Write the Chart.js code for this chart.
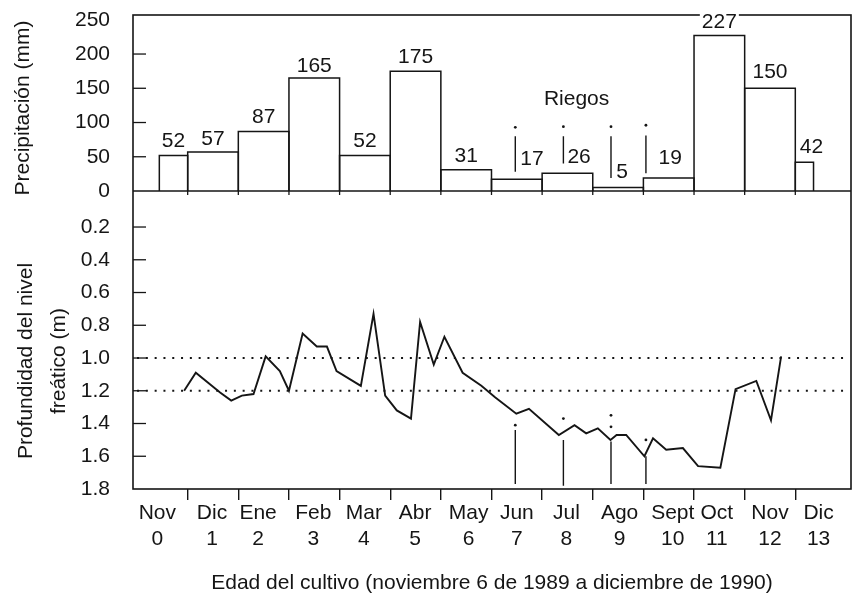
<!DOCTYPE html>
<html>
<head>
<meta charset="utf-8">
<script src="https://cdn.jsdelivr.net/npm/chart.js@4/dist/chart.umd.min.js"></script>
<style>
  html, body { margin: 0; padding: 0; background: #ffffff; }
  canvas { display: block; }
</style>
</head>
<body>
<canvas id="chart" width="857" height="596"></canvas>
<script>
// ---------------- DATA ----------------
// x axis unit: months since the start of November 1989 (0 = start of Nov 1989)
const monthNames   = ['Nov','Dic','Ene','Feb','Mar','Abr','May','Jun','Jul','Ago','Sept','Oct','Nov','Dic'];
const monthNumbers = ['0','1','2','3','4','5','6','7','8','9','10','11','12','13'];
const monthLabelPos = [0.40, 1.48, 2.39, 3.48, 4.48, 5.49, 6.55, 7.50, 8.48, 9.53, 10.58, 11.45, 12.50, 13.46];
const monthBoundaries = [1,2,3,4,5,6,7,8,9,10,11,12,13];

// monthly precipitation (mm), with the period each bar covers
const rainStart = [0.44, 1, 2, 3, 4, 5, 6, 7, 8, 9, 10, 11, 12, 13];
const rainEnd   = [1, 2, 3, 4, 5, 6, 7, 8, 9, 10, 11, 12, 13, 13.36];
const rainMm    = [52, 57, 87, 165, 52, 175, 31, 17, 26, 5, 19, 227, 150, 42];
const rainTicks = [0, 50, 100, 150, 200, 250];

// water-table depth (m)
const wtMonth = [0.93, 1.16, 1.64, 1.86, 2.07, 2.30, 2.54, 2.82, 3.00, 3.27, 3.55, 3.75, 3.94, 4.42,
                 4.67, 4.90, 5.13, 5.41, 5.59, 5.86, 6.07, 6.43, 6.80, 7.07, 7.49, 7.74, 8.33, 8.64,
                 8.87, 9.10, 9.35, 9.47, 9.66, 10.02, 10.19, 10.45, 10.78, 11.08, 11.52, 11.82, 12.23,
                 12.52, 12.72];
const wtDepth = [1.20, 1.09, 1.21, 1.26, 1.23, 1.22, 0.99, 1.08, 1.20, 0.85, 0.93, 0.93, 1.08, 1.17,
                 0.73, 1.23, 1.32, 1.37, 0.78, 1.04, 0.87, 1.09, 1.17, 1.24, 1.34, 1.31, 1.47, 1.41,
                 1.46, 1.43, 1.50, 1.47, 1.47, 1.60, 1.49, 1.56, 1.55, 1.66, 1.67, 1.19, 1.14,
                 1.38, 0.99];
const depthTicks = [0.2, 0.4, 0.6, 0.8, 1.0, 1.2, 1.4, 1.6, 1.8];
const refDepths = [1.0, 1.2];

// irrigation events (Riegos)
const riegoLabel = 'Riegos';
const riegoMonth = [7.47, 8.42, 9.36, 10.05];
const riegoRainTop    = [80, 80, 80, 81];
const riegoRainBottom = [28, 40, 19, 26];
const riegoRainDot    = [93, 94, 94, 96];
const riegoDepthTop    = [1.44, 1.50, 1.51, 1.60];
const riegoDepthBottom = [1.77, 1.78, 1.77, 1.77];
const riegoDepthDots   = [[1.41], [1.37], [1.35, 1.42], [1.50]];

// label nudges (layout only)
const rainLabelDx = [0, 0, 0, 0, 0, 0, 0, 0.30, 0.23, 0.08, 0.03, 0, 0, 0.14];
const rainLabelDy = [14, 13, 14, 12, 14, 14, 14, 20, 16, 15, 20, 13, 16, 15];
const riegoLabelAt = [8.68, 134];

const xTitle = 'Edad del cultivo (noviembre 6 de 1989 a diciembre de 1990)';
const rainTitle = 'Precipitación (mm)';
const depthTitle = ['Profundidad del nivel', 'freático (m)'];

// ---------------- STYLE ----------------
const INK = '#151515';
const FONT = "'Liberation Sans', Arial, Helvetica, sans-serif";
Chart.defaults.font.family = FONT;
Chart.defaults.font.size = 21;
Chart.defaults.color = INK;

const datasets = [];
// precipitation bars (outlined rectangles of variable width)
rainMm.forEach((v, i) => {
  datasets.push({
    yAxisID: 'yRain', showLine: true, borderColor: INK, borderWidth: 1.5,
    pointRadius: 0, fill: false, tension: 0,
    data: [{x: rainStart[i], y: 0}, {x: rainStart[i], y: v}, {x: rainEnd[i], y: v}, {x: rainEnd[i], y: 0}]
  });
});
// riego markers in precipitation panel
riegoMonth.forEach((m, i) => {
  datasets.push({
    yAxisID: 'yRain', showLine: true, borderColor: INK, borderWidth: 1.4, pointRadius: 0,
    data: [{x: m, y: riegoRainTop[i]}, {x: m, y: riegoRainBottom[i]}]
  });
});
datasets.push({
  yAxisID: 'yRain', showLine: false, pointRadius: 1.4, pointBackgroundColor: INK, pointBorderWidth: 0,
  data: riegoMonth.map((m, i) => ({x: m, y: riegoRainDot[i]}))
});
// reference dotted lines
refDepths.forEach(d => {
  datasets.push({
    yAxisID: 'yDepth', showLine: true, borderColor: INK, borderWidth: 2, borderDash: [2, 6.8],
    pointRadius: 0, data: [{x: 0, y: d}, {x: 14.05, y: d}]
  });
});
// water table curve
datasets.push({
  yAxisID: 'yDepth', showLine: true, borderColor: INK, borderWidth: 1.9, pointRadius: 0, tension: 0,
  data: wtMonth.map((m, i) => ({x: m, y: wtDepth[i]}))
});
// riego markers in depth panel
riegoMonth.forEach((m, i) => {
  datasets.push({
    yAxisID: 'yDepth', showLine: true, borderColor: INK, borderWidth: 1.4, pointRadius: 0,
    data: [{x: m, y: riegoDepthTop[i]}, {x: m, y: riegoDepthBottom[i]}]
  });
});
const dotData = [];
riegoMonth.forEach((m, i) => riegoDepthDots[i].forEach(d => dotData.push({x: m, y: d})));
datasets.push({
  yAxisID: 'yDepth', showLine: false, pointRadius: 1.4, pointBackgroundColor: INK, pointBorderWidth: 0,
  data: dotData
});

function seg(ctx, x1, y1, x2, y2) {
  ctx.beginPath(); ctx.moveTo(x1, y1); ctx.lineTo(x2, y2); ctx.stroke();
}

const decor = {
  id: 'decor',
  beforeDatasetsDraw(chart) {
    const {ctx, chartArea: a, scales: {x, yRain, yDepth}} = chart;
    ctx.save();
    ctx.strokeStyle = INK;
    ctx.lineWidth = 1.6;
    ctx.strokeRect(a.left, a.top, a.right - a.left, a.bottom - a.top);
    const yDiv = yRain.getPixelForValue(0);
    seg(ctx, a.left, yDiv, a.right, yDiv);
    ctx.lineWidth = 1.3;
    rainTicks.slice(1, -1).forEach(v => {
      const p = yRain.getPixelForValue(v); seg(ctx, a.left, p, a.left + 13, p);
    });
    depthTicks.slice(0, -1).forEach(v => {
      const p = yDepth.getPixelForValue(v); seg(ctx, a.left, p, a.left + 13, p);
    });
    monthBoundaries.forEach(m => {
      const p = x.getPixelForValue(m); seg(ctx, p, yDiv, p, yDiv + 4);
    });
    ctx.restore();
  },
  afterDatasetsDraw(chart) {
    const {ctx, chartArea: a, scales: {x, yRain}} = chart;
    ctx.save();
    ctx.font = '21px ' + FONT;
    ctx.textAlign = 'center';
    ctx.textBaseline = 'middle';
    rainMm.forEach((v, i) => {
      const s = String(v);
      const cx = x.getPixelForValue((rainStart[i] + rainEnd[i]) / 2 + rainLabelDx[i]);
      const cy = yRain.getPixelForValue(v) - rainLabelDy[i];
      const w = ctx.measureText(s).width;
      ctx.fillStyle = '#ffffff';
      ctx.fillRect(cx - w / 2 - 2, cy - 9, w + 4, 18);
      ctx.fillStyle = INK;
      ctx.fillText(s, cx, cy);
    });
    ctx.fillStyle = INK;
    ctx.fillText(riegoLabel, x.getPixelForValue(riegoLabelAt[0]), yRain.getPixelForValue(riegoLabelAt[1]));

    // y axis titles (rotated)
    const yDiv = yRain.getPixelForValue(0);
    const drawRot = (s, px, py) => {
      ctx.save(); ctx.translate(px, py); ctx.rotate(-Math.PI / 2); ctx.fillText(s, 0, 0); ctx.restore();
    };
    drawRot(rainTitle, a.left - 110, (a.top + yDiv) / 2 + 5);
    const cyB = (yDiv + a.bottom) / 2 + 21;
    drawRot(depthTitle[0], a.left - 107, cyB);
    drawRot(depthTitle[1], a.left - 74, cyB);
    ctx.restore();
  }
};

new Chart(document.getElementById('chart'), {
  type: 'scatter',
  data: { datasets },
  plugins: [decor],
  options: {
    responsive: false,
    animation: false,
    devicePixelRatio: 1,
    layout: { padding: { top: 15, right: 6, left: 0, bottom: 0 } },
    plugins: { legend: { display: false }, tooltip: { enabled: false } },
    events: [],
    scales: {
      x: {
        type: 'linear', position: 'bottom', min: -0.08, max: 14.1,
        afterBuildTicks: s => {
          s.ticks = monthBoundaries.concat(monthLabelPos).sort((p, q) => p - q).map(v => ({value: v}));
        },
        ticks: {
          autoSkip: false, maxRotation: 0, minRotation: 0, padding: 0, color: INK,
          font: { size: 21, lineHeight: 1.25 },
          callback: v => {
            const i = monthLabelPos.indexOf(v);
            return i < 0 ? '' : [monthNames[i], monthNumbers[i]];
          }
        },
        grid: {
          drawOnChartArea: false, drawTicks: true, tickLength: 11, lineWidth: 1.4,
          color: c => (c.tick && monthBoundaries.includes(c.tick.value)) ? INK : 'rgba(0,0,0,0)'
        },
        border: { display: false },
        title: { display: true, text: xTitle, color: INK, font: { size: 21 }, padding: { top: 0, bottom: 0 } },
        afterFit: s => { s.height = 107; s.paddingLeft = 0; s.paddingRight = 0; }
      },
      yDepth: {
        type: 'linear', position: 'left', stack: 'panels', stackWeight: 298,
        reverse: true, min: -0.02, max: 1.8,
        afterBuildTicks: s => { s.ticks = depthTicks.map(v => ({value: v})); },
        ticks: { autoSkip: false, padding: 15, color: INK, font: { size: 21 }, callback: v => Number(v).toFixed(1) },
        grid: { display: false },
        border: { display: false },
        afterFit: s => { s.width = 133; s.paddingTop = 0; s.paddingBottom = 0; }
      },
      yRain: {
        type: 'linear', position: 'left', stack: 'panels', stackWeight: 176,
        min: 0, max: 257,
        afterBuildTicks: s => { s.ticks = rainTicks.map(v => ({value: v})); },
        ticks: { autoSkip: false, padding: 15, color: INK, font: { size: 21 }, callback: v => String(v) },
        grid: { display: false },
        border: { display: false },
        afterFit: s => { s.width = 133; s.paddingTop = 0; s.paddingBottom = 0; }
      }
    }
  }
});
</script>
</body>
</html>
